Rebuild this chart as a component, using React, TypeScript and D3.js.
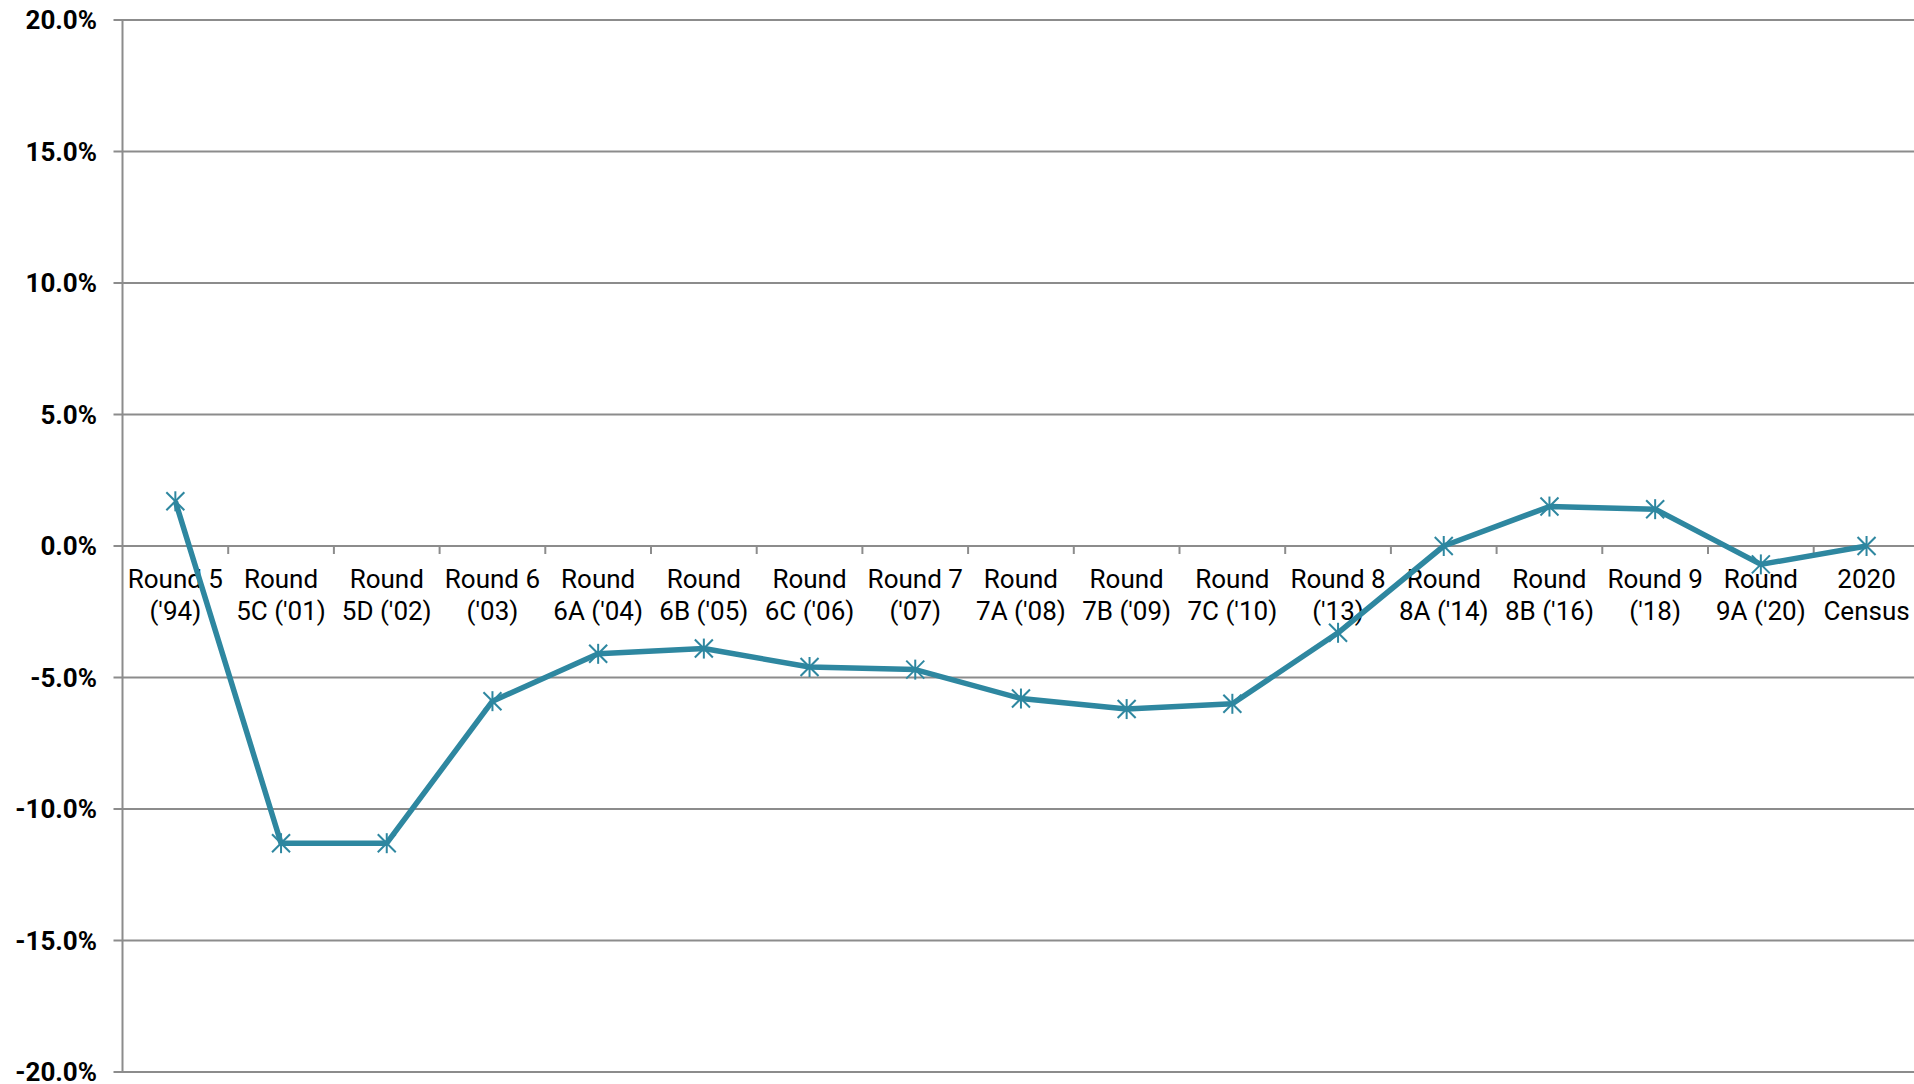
import React from "react";
import { scaleBand, scaleLinear, line, range } from "d3";

const categories = [
  ["Round 5", "('94)"],
  ["Round", "5C ('01)"],
  ["Round", "5D ('02)"],
  ["Round 6", "('03)"],
  ["Round", "6A ('04)"],
  ["Round", "6B ('05)"],
  ["Round", "6C ('06)"],
  ["Round 7", "('07)"],
  ["Round", "7A ('08)"],
  ["Round", "7B ('09)"],
  ["Round", "7C ('10)"],
  ["Round 8", "('13)"],
  ["Round", "8A ('14)"],
  ["Round", "8B ('16)"],
  ["Round 9", "('18)"],
  ["Round", "9A ('20)"],
  ["2020", "Census"],
];

const values = [1.7, -11.3, -11.3, -5.9, -4.1, -3.9, -4.6, -4.7, -5.8, -6.2, -6.0, -3.3, 0.0, 1.5, 1.4, -0.7, 0.0];

const yTicks = [20, 15, 10, 5, 0, -5, -10, -15, -20];

const W = 1914;
const H = 1084;
const margin = { top: 20, left: 122.5, bottom: 12 };
const step = 105.7;
const lineColor = "#2e87a0";
const gridColor = "#8c8c8c";

export default function App() {
  const keys = categories.map((c) => c.join(" "));
  const x = scaleBand<string>()
    .domain(keys)
    .range([margin.left, margin.left + step * keys.length]);
  const y = scaleLinear().domain([-20, 20]).range([H - margin.bottom, margin.top]);

  const pts = values.map((v, i) => [x(keys[i])! + x.bandwidth() / 2, y(v)] as [number, number]);
  const path = line()(pts) ?? "";
  const s = 9;

  return (
    <svg
      width={W}
      height={H}
      style={{ position: "absolute", left: 0, top: 0, background: "#fff" }}
      fontFamily="Roboto, sans-serif"
    >
      {/* horizontal gridlines + y labels */}
      {yTicks.map((t) => (
        <g key={t}>
          <line x1={margin.left - 9} x2={W} y1={y(t)} y2={y(t)} stroke={gridColor} strokeWidth={2} />
          <text
            x={97}
            y={y(t)}
            textAnchor="end"
            dominantBaseline="central"
            fontSize={26}
            fontWeight="bold"
            fill="#000"
          >
            {t.toFixed(1)}%
          </text>
        </g>
      ))}
      {/* y axis */}
      <line x1={margin.left} x2={margin.left} y1={y(20)} y2={y(-20)} stroke={gridColor} strokeWidth={2} />
      {/* category ticks on zero line */}
      {range(1, keys.length + 1).map((i) => {
        const bx = margin.left + i * x.step();
        return <line key={i} x1={bx} x2={bx} y1={y(0)} y2={y(0) + 8} stroke={gridColor} strokeWidth={2} />;
      })}
      {/* category labels */}
      {categories.map((c, i) => (
        <text key={i} x={x(keys[i])! + x.bandwidth() / 2} textAnchor="middle" fontSize={26} fill="#000">
          {c.map((ln, j) => (
            <tspan key={j} x={x(keys[i])! + x.bandwidth() / 2} y={y(0) + 42 + j * 32}>
              {ln}
            </tspan>
          ))}
        </text>
      ))}
      {/* series */}
      <path d={path} fill="none" stroke={lineColor} strokeWidth={5.5} strokeLinejoin="round" />
      {pts.map(([px, py], i) => (
        <g key={i} stroke={lineColor} strokeWidth={2}>
          <line x1={px - s} x2={px + s} y1={py - s} y2={py + s} />
          <line x1={px - s} x2={px + s} y1={py + s} y2={py - s} />
          <line x1={px} x2={px} y1={py - s - 1} y2={py + s + 1} />
        </g>
      ))}
    </svg>
  );
}
